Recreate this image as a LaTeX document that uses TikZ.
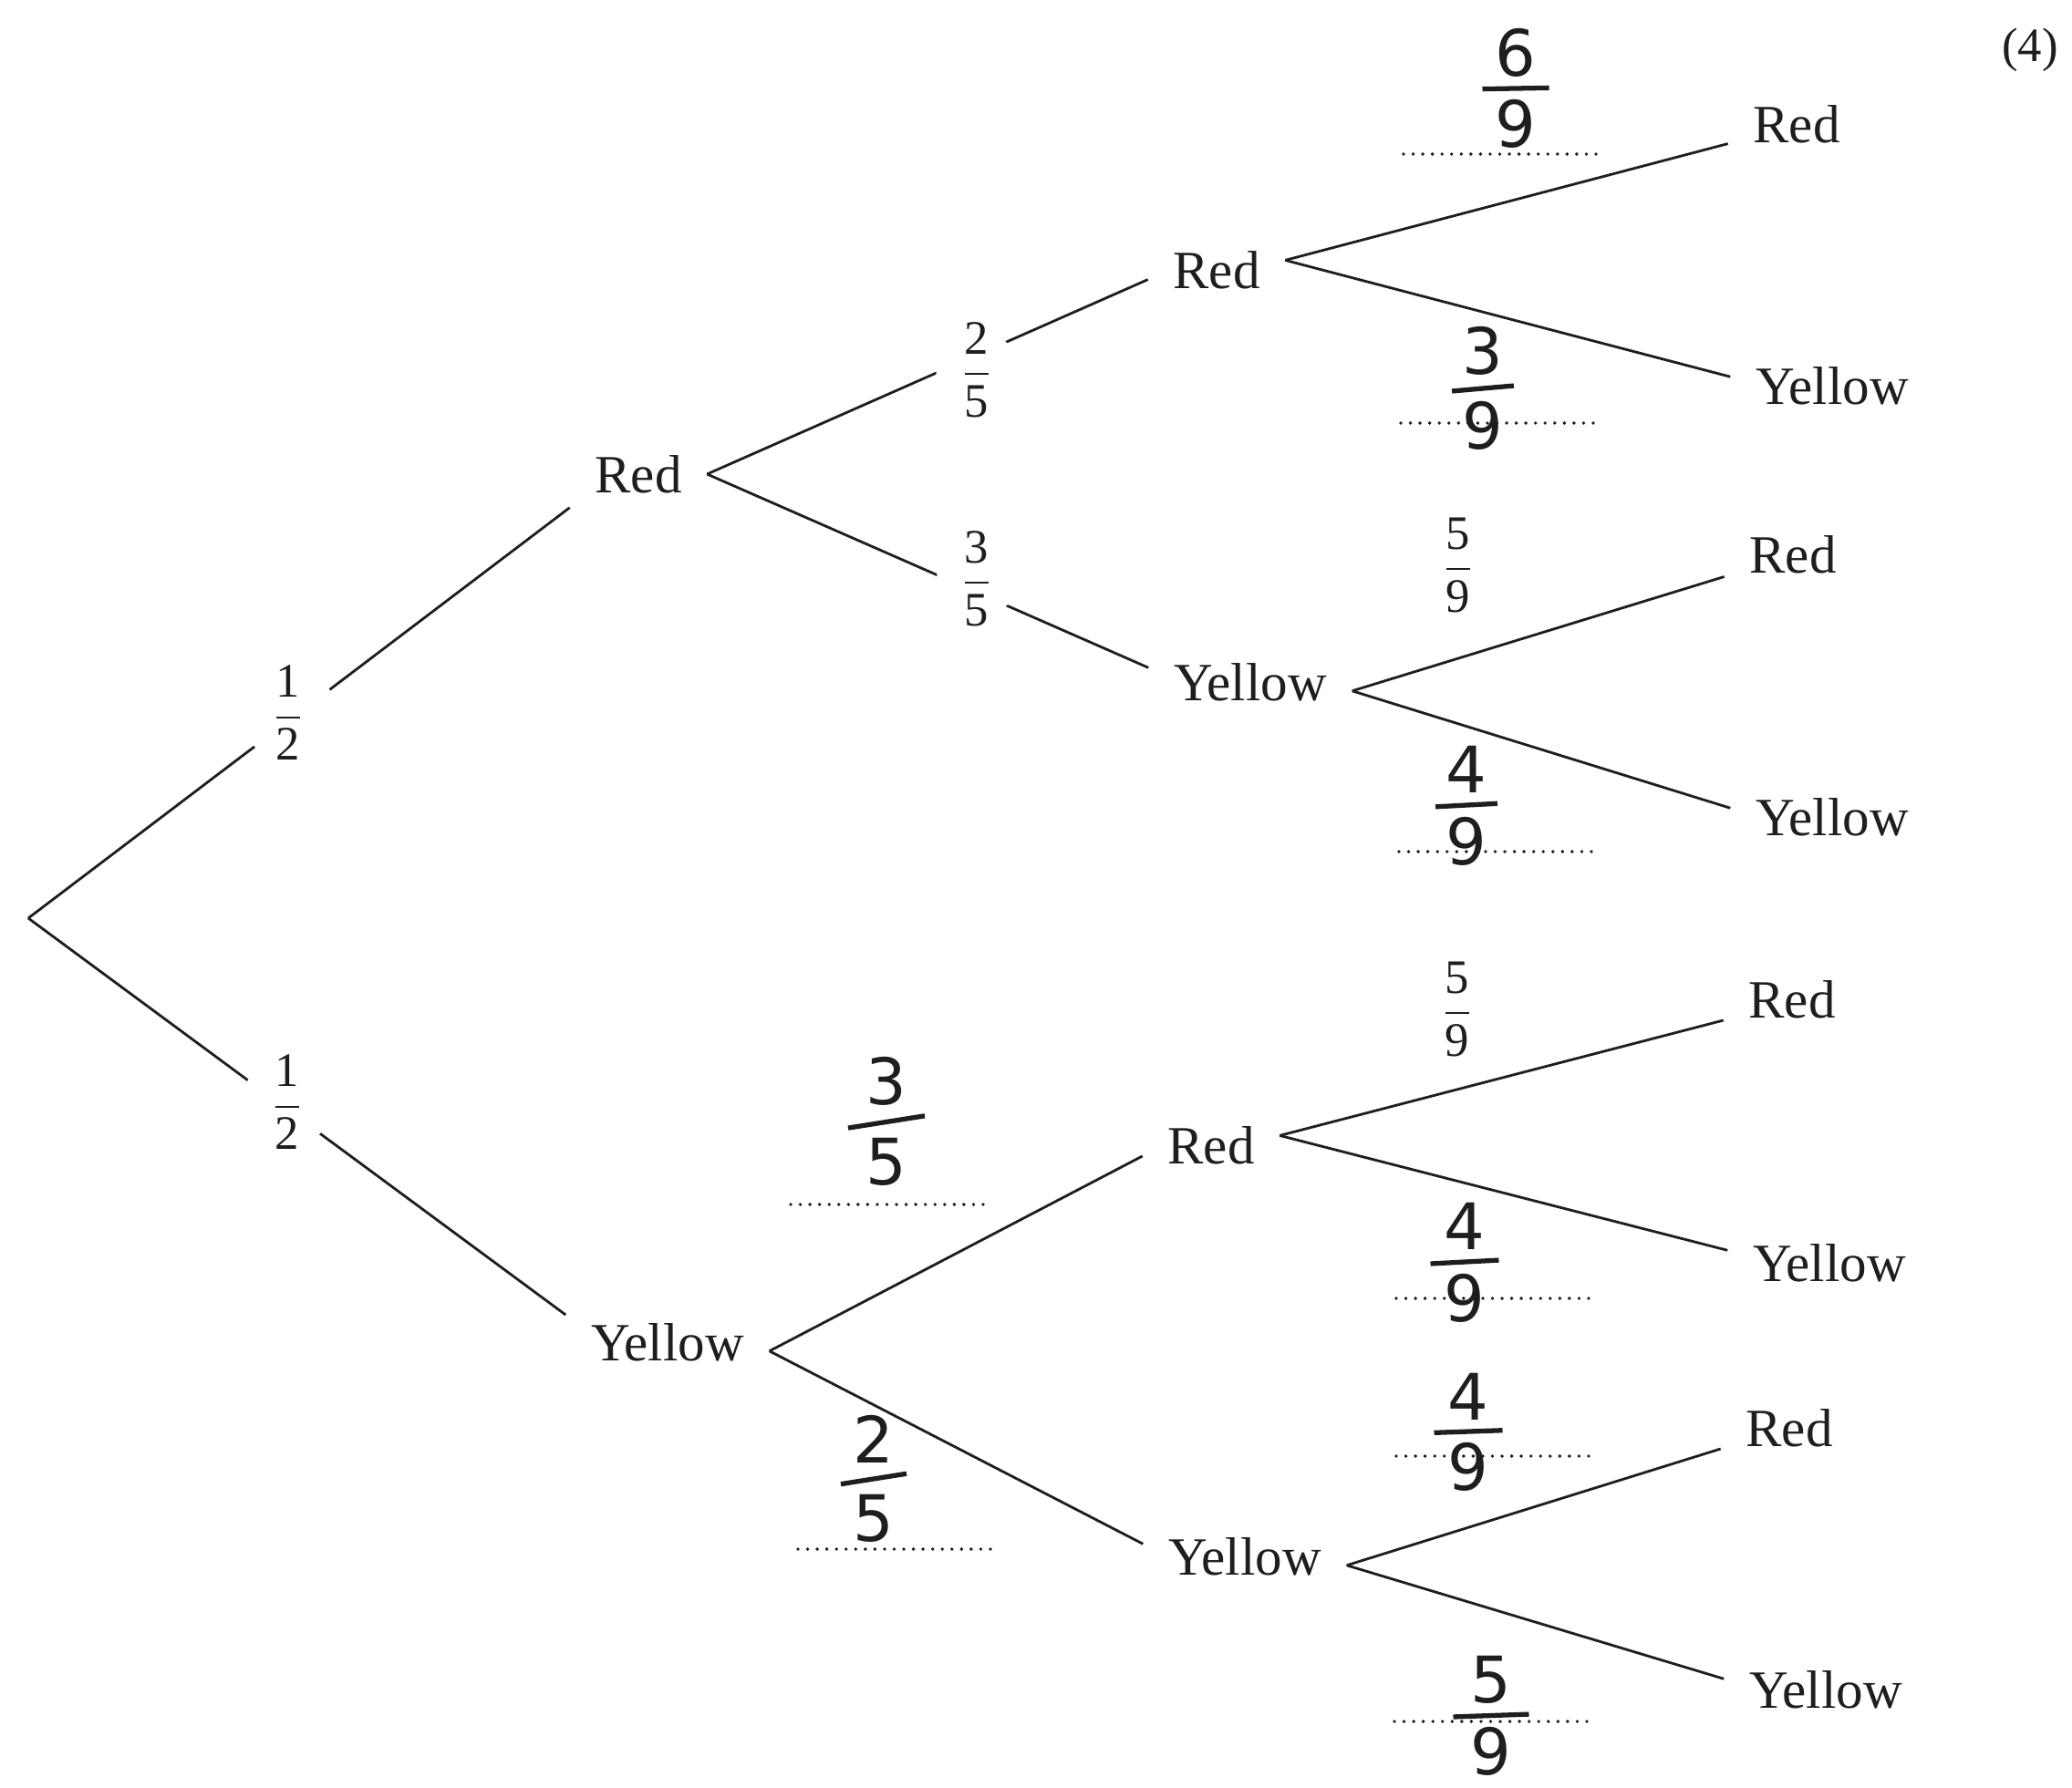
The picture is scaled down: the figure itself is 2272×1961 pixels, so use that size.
\documentclass[tikz,border=0pt]{standalone}
\usepackage{fontspec}
\usepackage{amsmath}
\setmainfont{Liberation Serif}
\newfontfamily\handfont{DejaVu Sans}
\definecolor{ink}{HTML}{1E1E1E}
% handwritten fraction: bar width, bar angle, numerator, denominator
\newcommand\hwfrac[4]{%
  \vbox{\offinterlineskip\halign{\hfil##\hfil\cr
  #3\cr\noalign{\kern2.5pt}%
  \rotatebox[origin=c]{#2}{\vrule width #1 height 0.75pt depth 0.75pt}\cr
  \noalign{\kern2.5pt}#4\cr}}}
% printed fraction
\newcommand\pfrac[2]{$\dfrac{\mbox{#1}}{\mbox{#2}}$}
\begin{document}
\begin{tikzpicture}[x=0.01cm,y=-0.01cm,
  word/.style={font=\fontsize{16.8pt}{20pt}\selectfont, text=ink, inner xsep=0.27cm, inner ysep=0.2cm},
  edge/.style={draw=ink, line width=0.8pt},
  pf/.style={circle, fill=white, font=\fontsize{15pt}{18pt}\selectfont, text=ink},
  hw/.style={font=\handfont\fontsize{20pt}{24pt}\selectfont, text=ink, inner sep=0pt},
  answer/.style={draw=ink, line width=1.1pt, dash pattern=on 0pt off 3pt, line cap=round}]
\fill[white] (0,0) rectangle (2272,1961);
\useasboundingbox (0,0) rectangle (2272,1961);

% answer lines
\draw[answer] (1539,169) -- (1752,169);
\draw[answer] (1536,464) -- (1752,464);
\draw[answer] (1534,934) -- (1750,934);
\draw[answer] (1531,1424) -- (1747,1424);
\draw[answer] (1531,1597) -- (1747,1597);
\draw[answer] (1529,1888) -- (1747,1888);
\draw[answer] (867,1321) -- (1086,1321);
\draw[answer] (875,1699) -- (1086,1699);

% outcome nodes
\coordinate (root) at (31,1007);
\node[word] (red1) at (700,520) {Red};
\node[word] (yel1) at (732,1472) {Yellow};
\node[word] (r2a) at (1334,296) {Red};
\node[word] (y2a) at (1371,748) {Yellow};
\node[word] (r2b) at (1328,1256) {Red};
\node[word] (y2b) at (1365,1707) {Yellow};
\node[word] (r3a) at (1970,136) {Red};
\node[word] (y3a) at (2009,423) {Yellow};
\node[word] (r3b) at (1966,608) {Red};
\node[word] (y3b) at (2009,896) {Yellow};
\node[word] (r3c) at (1965,1096) {Red};
\node[word] (y3c) at (2006,1385) {Yellow};
\node[word] (r3d) at (1962,1566) {Red};
\node[word] (y3d) at (2002,1853) {Yellow};
\node[font=\fontsize{15pt}{18pt}\selectfont, text=ink, inner sep=0pt] (marks) at (2226,55) {(4)};

% branches
\draw[edge] (root) -- (red1.206);
\draw[edge] (root) -- (yel1.165);
\draw[edge] (red1.east) -- (r2a.188);
\draw[edge] (red1.east) -- (y2a.172);
\draw[edge] (yel1.355) -- (r2b.189);
\draw[edge] (yel1.355) -- (y2b.173);
\draw[edge] (r2a.8) -- (r3a.196);
\draw[edge] (r2a.8) -- (y3a.175);
\draw[edge] (y2a.355) -- (r3b.198);
\draw[edge] (y2a.355) -- (y3b.175);
\draw[edge] (r2b.8) -- (r3c.197);
\draw[edge] (r2b.8) -- (y3c.173);
\draw[edge] (y2b.355) -- (r3d.197);
\draw[edge] (y2b.355) -- (y3d.174);

% printed probabilities
\node[pf, inner sep=-0.02cm] (h1) at (316,782) {\pfrac{1}{2}};
\node[pf, inner sep=-0.04cm] (h2) at (315,1209) {\pfrac{1}{2}};
\node[pf, inner sep=-0.085cm] (f25) at (1071,406) {\pfrac{2}{5}};
\node[pf, inner sep=-0.09cm] (f35) at (1071,635) {\pfrac{3}{5}};
\node[pf, inner sep=-0.09cm] (f59a) at (1599,620) {\pfrac{5}{9}};
\node[pf, inner sep=-0.09cm] (f59b) at (1598,1107) {\pfrac{5}{9}};

% handwritten answers
\node[hw] (w69) at (1662,97) {\hwfrac{0.73cm}{1}{6}{9}};
\node[hw] (w39) at (1626,426) {\hwfrac{0.68cm}{5}{3}{9}};
\node[hw] (w49a) at (1608,884) {\hwfrac{0.68cm}{3}{4}{9}};
\node[hw] (w49b) at (1606,1385) {\hwfrac{0.75cm}{3}{4}{9}};
\node[hw] (w49c) at (1610,1571) {\hwfrac{0.75cm}{2}{4}{9}};
\node[hw] (w59) at (1635,1882) {\hwfrac{0.83cm}{2}{5}{9}};
\node[hw] (w35) at (972,1230) {\hwfrac{0.85cm}{9}{3}{5}};
\node[hw] (w25) at (958,1622) {\hwfrac{0.73cm}{9}{2}{5}};
\end{tikzpicture}
\end{document}
